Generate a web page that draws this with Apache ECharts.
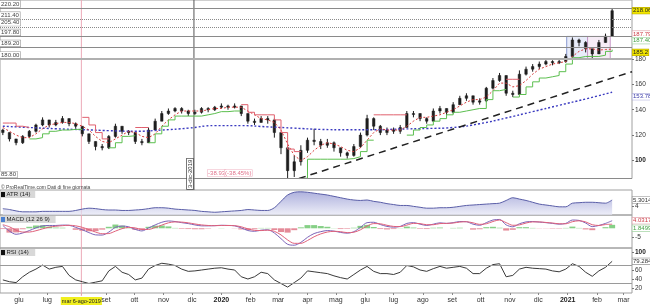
<!DOCTYPE html>
<html><head><meta charset="utf-8">
<script src="https://cdn.jsdelivr.net/npm/echarts@6/dist/echarts.min.js"></script>
<style>html,body{margin:0;padding:0;background:#fff;overflow:hidden}#c{width:650px;height:307px}</style>
</head><body><div id="c"></div>
<script>
// ---------- DATA (weekly samples) ----------
const weeks = ['2019-05-15','2019-05-22','2019-05-29','2019-06-05','2019-06-12','2019-06-19','2019-06-26','2019-07-03','2019-07-10','2019-07-17','2019-07-24','2019-07-31','2019-08-07','2019-08-14','2019-08-21','2019-08-28','2019-09-04','2019-09-11','2019-09-18','2019-09-25','2019-10-02','2019-10-09','2019-10-16','2019-10-23','2019-10-30','2019-11-06','2019-11-13','2019-11-20','2019-11-27','2019-12-04','2019-12-11','2019-12-18','2019-12-25',
'2020-01-01','2020-01-08','2020-01-15','2020-01-22','2020-01-29','2020-02-05','2020-02-12','2020-02-19','2020-02-26','2020-03-04','2020-03-11','2020-03-18','2020-03-25','2020-04-01','2020-04-08','2020-04-15','2020-04-22','2020-04-29','2020-05-06','2020-05-13','2020-05-20','2020-05-27','2020-06-03','2020-06-10','2020-06-17','2020-06-24','2020-07-01','2020-07-08','2020-07-15','2020-07-22','2020-07-29','2020-08-05','2020-08-12','2020-08-19','2020-08-26','2020-09-02','2020-09-09','2020-09-16','2020-09-23','2020-09-30','2020-10-07','2020-10-14','2020-10-21','2020-10-28','2020-11-04','2020-11-11','2020-11-18','2020-11-25','2020-12-02','2020-12-09','2020-12-16','2020-12-23','2020-12-30',
'2021-01-06','2021-01-13','2021-01-20','2021-01-27','2021-02-03','2021-02-10','2021-02-17'];

const priceOpen = [124,122,117,114,119,123,128,132,128,130,133,129,127,121,115,111,110,119,127,123,122,115,114,124,131,137,139,141,139,137,138,141,140,142,143,142,143,137,131,130,133,132,122,110,92,99,108,116,115,112,114,110,106,104,111,120,133,127,122,124,123,126,137,137,133,131,139,141,138,144,149,151,146,147,157,163,167,153,152,168,172,174,176,178,177,178,182,195,193,188,184,193,198];
const priceClose = [122,117,114,119,123,128,132,128,130,133,129,127,121,115,111,110,119,127,123,122,115,114,124,131,137,139,141,139,137,138,141,140,142,143,142,143,137,131,130,133,132,122,110,92,99,108,116,115,112,114,110,106,104,111,120,133,127,122,124,123,126,137,137,133,131,139,141,138,144,149,151,146,147,157,163,167,153,152,168,172,174,176,178,177,178,182,195,193,188,184,193,198,218.06];
const priceHigh = [125,122,117,120,124,129,134,132,132,135,133,130,127,121,115,113,120,129,127,124,122,117,126,133,139,141,142,142,140,140,142,142,143,145,144,145,143,137,133,135,135,133,122,111,104,112,118,125,117,117,115,110,107,113,122,136,134,128,126,126,128,139,139,137,134,141,143,141,146,151,153,151,149,158,165,169,167,155,171,174,176,178,180,179,180,184,197,196,194,188,195,200,220.2];
const priceLow = [120,115,112,113,118,122,127,126,127,129,127,125,119,113,108,108,109,118,121,120,113,112,114,124,131,136,138,137,135,136,137,138,139,141,140,141,135,129,128,130,129,118,105,85.8,87,96,106,112,109,110,107,103,101.5,103,110,119,124,120,120,121,121,126,134,131,129,131,137,136,137,144,147,144,144,146,156,162,151,150,152,167,170,172,175,175,176,177,181,190,185.2,180.5,184,193,198];

const stopGreen = [null,null,null,null,117,118,121,123,124,124,124.5,124.5,null,null,null,null,110,114,119,119.5,null,null,114,121,127,132,135,135,135,135,136,137,138.5,138.5,139,139,null,null,null,null,null,null,null,null,null,86,101,101,101,101,101,101,101.5,103,107,116,null,null,null,null,null,120,124,126,128,131,133,136,138,139,140,141,141,148,155,156,null,150,152,158,162,165,166,167,170,176,181,182,182,182,183,186,187.4];
const stopRed = [129.5,129.5,127,126,null,null,null,null,null,null,null,null,134,128,122,117,null,null,null,null,126,126,null,null,null,null,null,null,null,null,null,null,null,null,null,null,144,138,136,136,136,132,122,109,107,null,null,null,null,null,null,null,null,null,null,null,136,136,136,136,136,null,null,null,null,null,null,null,null,null,null,null,null,null,null,null,164,164,null,null,null,null,null,null,null,null,null,null,null,null,null,null,null];
const maRed = [126,123,120,118,118,121,125,128,129,130,130,129,127,124,119,115,114,117,120,123,122,119,118,121,127,132,136,139,139,139,139,140,141,141,142,142,142,139,136,133,132,130,124,113,104,100,103,108,112,114,113,111,108,107,110,116,122,125,124,124,124,127,131,134,134,135,136,138,140,143,146,148,148,150,155,161,161,158,159,163,168,172,174,176,177,178,182,186,188,188,187,187.5,187.79];

const ma200Dates = ['2019-05-15','2019-06-12','2019-07-10','2019-08-07','2019-09-04','2019-10-02','2019-10-30','2019-11-27','2019-12-25','2020-01-22','2020-02-19','2020-03-18','2020-04-15','2020-05-13','2020-06-10','2020-07-08','2020-08-05','2020-09-02','2020-09-30','2020-10-28','2020-11-25','2020-12-23','2021-01-20','2021-02-17'];
const ma200Values = [127,126,125,124.3,123.5,123,124,125.5,127.5,127.5,126.5,125.5,124.5,124.2,124.2,124.8,125.2,126,129,133.5,138.5,143.5,148.5,153.78];

const trendDates = ['2020-03-23','2021-03-10'];
const trendValues = [85.8, 170];

const levelValues = [220.2, 211.4, 205.4, 197.8, 189.2, 180.0, 85.8];
const boxDates = [['2020-12-31','2021-01-22'],['2021-01-22','2021-02-15']];
const boxRange = [180, 197.8];

const atr = [3.4,3.2,2.9,2.7,2.7,2.7,2.8,2.8,2.8,2.8,2.8,3.0,3.3,3.5,3.4,3.2,3.1,3.1,3.0,3.0,3.1,3.2,3.4,3.6,3.6,3.5,3.3,3.2,3.1,3.0,2.8,2.7,2.6,2.7,2.8,2.9,3.0,3.2,3.1,3.0,3.0,3.6,5.0,6.4,7.0,7.1,7.0,6.8,6.6,6.4,6.1,5.8,5.5,5.3,5.2,5.3,5.0,4.8,4.5,4.3,4.1,4.1,3.9,3.7,3.5,3.5,3.6,3.6,3.7,3.9,4.1,4.2,4.3,4.4,4.5,4.6,5.2,5.8,5.5,5.2,4.8,4.4,4.2,4.0,3.8,3.8,4.6,4.7,4.8,4.8,4.7,4.6,5.3014];
const macdLine = [1.5,-1.5,-3.2,-2.5,-1.2,0.2,1.3,1.5,1.5,1.7,1.6,0.5,-0.8,-2.3,-3.5,-3.6,-2.0,0.5,1.2,0.8,-0.6,-1.4,0.2,1.8,3.2,3.9,3.6,3.0,2.5,1.8,1.3,1.3,1.4,1.6,1.5,1.3,0.2,-1.2,-1.6,-1.0,-0.8,-2.5,-5.5,-8.5,-9.0,-7.5,-4.8,-2.8,-1.8,-1.2,-1.5,-2.2,-2.6,-1.8,0.5,3.0,3.2,2.0,1.0,0.6,1.0,2.6,3.0,2.2,1.5,2.2,2.9,2.6,3.0,3.6,3.5,2.2,1.6,3.0,4.4,4.7,1.8,0.8,2.4,3.4,3.6,3.3,3.0,2.6,2.2,2.6,4.4,4.2,2.8,0.9,1.5,2.6,4.0317];
const macdSignal = [1.9,0.8,-1.0,-2.0,-2.0,-1.3,-0.3,0.6,1.1,1.4,1.6,1.3,0.5,-0.7,-2.0,-2.9,-2.8,-1.5,-0.2,0.5,0.2,-0.6,-0.6,0.4,1.7,2.9,3.4,3.3,2.9,2.3,1.8,1.5,1.4,1.5,1.5,1.4,0.8,-0.3,-1.1,-1.2,-1.0,-1.6,-3.5,-6.2,-8.0,-8.0,-6.5,-4.5,-3.0,-2.0,-1.6,-1.8,-2.3,-2.1,-0.8,1.2,2.5,2.4,1.6,1.0,0.9,1.7,2.6,2.5,1.9,1.9,2.5,2.6,2.8,3.3,3.5,2.9,2.1,2.4,3.6,4.4,3.0,1.6,1.8,2.8,3.4,3.4,3.1,2.8,2.4,2.4,3.5,4.0,3.4,1.9,1.5,2.0,2.18];
const macdHist = [-0.4,-2.3,-2.2,-0.5,0.8,1.5,1.6,0.9,0.4,0.3,0.0,-0.8,-1.3,-1.6,-1.5,-0.7,0.8,2.0,1.4,0.3,-0.8,-0.8,0.8,1.4,1.5,1.0,0.2,-0.3,-0.4,-0.5,-0.5,-0.2,0.0,0.1,0.0,-0.1,-0.6,-0.9,-0.5,0.2,0.2,-0.9,-2.0,-2.3,-1.0,0.5,1.7,1.7,1.2,0.8,0.1,-0.4,-0.3,0.3,1.3,1.8,0.7,-0.4,-0.6,-0.4,0.1,0.9,0.4,-0.3,-0.4,0.3,0.4,0.0,0.2,0.3,0.0,-0.7,-0.5,0.6,0.8,0.3,-1.2,-0.8,0.6,0.6,0.2,-0.1,-0.1,-0.2,-0.2,0.2,0.9,0.2,-0.6,-1.0,0.0,0.6,1.8499];
const rsi = [38,34,32,45,55,62,71,62,66,68,48,38,34,30,33,36,58,68,55,50,38,42,62,70,75,73,70,62,57,58,60,62,64,65,62,60,45,40,45,55,52,38,30,22,32,42,58,56,54,52,47,43,40,50,60,68,57,52,52,50,55,70,67,60,57,63,68,64,66,68,64,52,52,64,72,74,45,48,62,66,64,63,62,58,56,62,74,68,55,46,58,66,79.284];
const rsiLevels = [70, 30];

const monthTickDates = ['2019-06-01','2019-07-01','2019-08-06','2019-09-01','2019-10-01','2019-11-01','2019-12-01','2020-01-01','2020-02-01','2020-03-01','2020-04-01','2020-05-01','2020-06-01','2020-07-01','2020-08-01','2020-09-01','2020-10-01','2020-11-01','2020-12-01','2021-01-01','2021-02-01','2021-03-01'];
const monthTickLabels = ['giu','lug','mar 6-ago-2019','set','ott','nov','dic','2020','feb','mar','apr','mag','giu','lug','ago','set','ott','nov','dic','2021','feb','mar'];
const priceTicks = [100,120,140,160,180];
const atrTicks = [4];
const macdTicks = [-5];
const rsiTicks = [20,40,60,100];

// ---------- BUILD ----------
const DAY0 = Date.UTC(2020,0,1);
function dn(s){const p=s.split('-').map(Number);return (Date.UTC(p[0],p[1]-1,p[2])-DAY0)/86400000;}
const FONT = "'Liberation Sans', Arial, sans-serif";
const XMIN = -234, XMAX = 434;
const wx = weeks.map(dn);
const pair = arr => wx.map((x,i)=>[x, arr[i]]);
const tickMap = {}; monthTickDates.forEach((d,i)=>{tickMap[dn(d)] = monthTickLabels[i];});

const grids = [
  {left:0, right:18, top:0, height:178.5},
  {left:0, right:18, top:190, height:25},
  {left:0, right:18, top:215, height:33},
  {left:0, right:18, top:248, height:45}
].map(g=>Object.assign(g,{show:true, borderColor:'#a0a0a0', borderWidth:1, backgroundColor:'transparent'}));

function xAx(i){
  const base = {type:'value', gridIndex:i, min:XMIN, max:XMAX, splitLine:{show:false}, axisLine:{show:false, onZero:false}};
  if(i<3){ base.axisLabel={show:false}; base.axisTick={show:false}; return base; }
  base.axisTick = {show:true, customValues: monthTickDates.map(dn), length:2, lineStyle:{color:'#888'}};
  base.axisLabel = {show:true, customValues: monthTickDates.map(dn), fontSize:7, color:'#333', fontFamily:FONT, margin:4,
    formatter: v => { const t = tickMap[v] || ''; if(t.indexOf('-')>0) return '{hl|'+t+'}'; if(/^\d{4}$/.test(t)) return '{b|'+t+'}'; return t; },
    rich:{hl:{backgroundColor:'#f0ef1e', color:'#222', fontSize:5.5, padding:[1,1], fontFamily:FONT}, b:{fontWeight:'bold', fontSize:7, color:'#222', fontFamily:FONT}}};
  return base;
}
function yAx(i, min, max, ticks, fmt){
  return {type:'value', gridIndex:i, position:'right', min:min, max:max, scale:true,
    splitLine:{show:false}, axisLine:{show:false, onZero:false},
    axisTick:{show:true, customValues:ticks, length:2, lineStyle:{color:'#777'}},
    axisLabel:{show:true, customValues:ticks, fontSize:6.5, color:'#333', margin:3, fontFamily:FONT, formatter: fmt || (v=>String(v)),
      rich:{b:{fontWeight:'bold', fontSize:6.5, color:'#222', fontFamily:FONT}}}};
}
const boldHundred = v => v===100 ? '{b|100}' : String(v);

function renderCandle(params, api){
  const x=api.value(0), o=api.value(1), c=api.value(2), l=api.value(3), h=api.value(4);
  const pH=api.coord([x,h]), pL=api.coord([x,l]), pO=api.coord([x,o]), pC=api.coord([x,c]);
  const top=Math.min(pO[1],pC[1]), bh=Math.max(1,Math.abs(pO[1]-pC[1]));
  return {type:'group', children:[
    {type:'line', shape:{x1:pH[0],y1:pH[1],x2:pL[0],y2:pL[1]}, style:{stroke:'#1e1e1e', lineWidth:1}},
    {type:'rect', shape:{x:pO[0]-1.25,y:top,width:2.5,height:bh}, style:{fill:'#1e1e1e', stroke:'#1e1e1e', lineWidth:0.5}}
  ]};
}

const levelTypes = ['solid','dotted','dotted','solid','solid','solid','solid'];
const levelWidths = [1,1,1,1,1,2,1];
const levelLines = levelValues.map((v,i)=>({yAxis:v, lineStyle:{type:levelTypes[i], color: i===5?'#b0b0b0':'#8a8a8a', width:levelWidths[i]},
  label:{show:true, position:'insideStartTop', distance:[0,1], formatter:v.toFixed(2), fontSize:6, color:'#444', fontFamily:FONT,
    backgroundColor:'#fff', borderColor:'#999', borderWidth:0.6, padding:[0,1]}}));

const lineBase = {type:'line', showSymbol:false, symbol:'none', silent:true, connectNulls:false, z:3};

const option = {
  animation:false,
  backgroundColor:'#fff',
  grid: grids,
  xAxis: [xAx(0), xAx(1), xAx(2), xAx(3)],
  yAxis: [
    yAx(0, 85.8, 226.5, priceTicks, boldHundred),
    yAx(1, 2, 7.5, atrTicks),
    yAx(2, -10.48, 7.07, macdTicks),
    yAx(3, 8.9, 108.9, rsiTicks, boldHundred)
  ],
  series: [
    Object.assign({}, lineBase, {name:'ma200', xAxisIndex:0, yAxisIndex:0, data: ma200Dates.map((d,i)=>[dn(d), ma200Values[i]]), smooth:true,
      lineStyle:{color:'#3a3ac0', width:1.4, type:[2,2]}, z:2,
      markLine:{silent:true, symbol:'none', animation:false, data: levelLines},
      markArea:{silent:true, data: boxDates.map((b,i)=>[
        {xAxis:dn(b[0]), yAxis:boxRange[0], itemStyle:{color: i===0?'rgba(150,170,230,0.22)':'rgba(215,170,215,0.22)', borderColor: i===0?'#8a9ad0':'#c89ac8', borderWidth:1}},
        {xAxis:dn(b[1]), yAxis:boxRange[1]}])}}),
    {type:'custom', name:'price', xAxisIndex:0, yAxisIndex:0, renderItem:renderCandle, clip:true, z:2,
      encode:{x:0, y:[1,2,3,4]}, data: wx.map((x,i)=>[x, priceOpen[i], priceClose[i], priceLow[i], priceHigh[i]])},
    Object.assign({}, lineBase, {name:'maRed', xAxisIndex:0, yAxisIndex:0, data: pair(maRed), lineStyle:{color:'#d83a3a', width:1, type:[2,2]}}),
    Object.assign({}, lineBase, {name:'stopGreen', xAxisIndex:0, yAxisIndex:0, step:'end', data: pair(stopGreen), lineStyle:{color:'#5cbf4f', width:1}}),
    Object.assign({}, lineBase, {name:'stopRed', xAxisIndex:0, yAxisIndex:0, step:'end', data: pair(stopRed), lineStyle:{color:'#e0606e', width:1}}),
    Object.assign({}, lineBase, {name:'trend', xAxisIndex:0, yAxisIndex:0, data: trendDates.map((d,i)=>[dn(d), trendValues[i]]), lineStyle:{color:'#222', width:1.5, type:[7,5]}}),
    Object.assign({}, lineBase, {name:'atr', xAxisIndex:1, yAxisIndex:1, data: pair(atr), smooth:0.3,
      lineStyle:{color:'#5a5ea8', width:1}, areaStyle:{origin:'start', color:new echarts.graphic.LinearGradient(0,0,0,1,[{offset:0,color:'#8c90cf'},{offset:1,color:'#e6e7f5'}])}}),
    {type:'bar', name:'hist', xAxisIndex:2, yAxisIndex:2, barWidth:6, silent:true, data: pair(macdHist),
      itemStyle:{color: p => p.value[1]>=0 ? '#86d086' : '#e48a98'}},
    Object.assign({}, lineBase, {name:'macd', xAxisIndex:2, yAxisIndex:2, data: pair(macdLine), smooth:0.3, lineStyle:{color:'#7b63b8', width:1}}),
    Object.assign({}, lineBase, {name:'signal', xAxisIndex:2, yAxisIndex:2, data: pair(macdSignal), smooth:0.3, lineStyle:{color:'#e0607a', width:1}}),
    Object.assign({}, lineBase, {name:'rsi', xAxisIndex:3, yAxisIndex:3, data: pair(rsi), lineStyle:{color:'#3a3a3a', width:1},
      markLine:{silent:true, symbol:'none', label:{show:false}, lineStyle:{color:'#9a9a9a', type:'solid', width:1}, data: rsiLevels.map(v=>({yAxis:v}))}})
  ]
};

const chart = echarts.init(document.getElementById('c'), null, {renderer:'canvas'});
chart.setOption(option);

// ---------- overlays positioned through the chart's own scales ----------
const X = d => chart.convertToPixel({xAxisIndex:0}, dn(d));
const Y = (ax, v) => chart.convertToPixel({yAxisIndex:ax}, v);
function boxText(text, x, y, st){
  return {type:'text', x:x, y:y, z:50, silent:true, style:Object.assign({text:text, fontSize:6, fontFamily:FONT, fill:'#333', align:'left', verticalAlign:'middle',
    backgroundColor:'#fff', borderColor:'#999', borderWidth:0.6, padding:[0,0.5]}, st||{})};
}
function panelTitle(text, y, sq){
  return {type:'group', x:0, y:y, z:50, silent:true, children:[
    {type:'rect', shape:{x:0,y:0,width:text.length*3.4+8,height:7}, style:{fill:'#d8d8d8'}},
    {type:'rect', shape:{x:1,y:1,width:4,height:5}, style:{fill:sq}},
    {type:'text', x:6.5, y:3.7, style:{text:text, fontSize:6, fontFamily:FONT, fill:'#222', verticalAlign:'middle'}}
  ]};
}
const xAug = X('2019-08-06'), xDec = X('2019-12-03'), xMeas = X('2020-01-16');
const RX = 632.5;
chart.setOption({graphic:[
  {type:'line', z:1, silent:true, shape:{x1:xAug,y1:0,x2:xAug,y2:296}, style:{stroke:'#ecaab8', lineWidth:1}},
  {type:'line', z:1, silent:true, shape:{x1:xDec,y1:0,x2:xDec,y2:190}, style:{stroke:'#555', lineWidth:1}},
  {type:'text', x:xDec-4, y:189, rotation:Math.PI/2, z:50, silent:true, style:{text:'3-dic-2019', fontSize:6, fontFamily:FONT, fill:'#333', align:'left', verticalAlign:'middle',
     backgroundColor:'#fff', borderColor:'#444', borderWidth:0.7, padding:[0,1]}},
  boxText('-38.93', xMeas-28, 173, {fill:'#e0708a', borderColor:'#efb0c0'}),
  boxText('(-38.45%)', xMeas-11, 173, {fill:'#e0708a', borderColor:'#efb0c0'}),
  {type:'text', x:1, y:187.5, z:50, silent:true, style:{text:'© ProRealTime.com Dati di fine giornata', fontSize:5, fontFamily:FONT, fill:'#444', verticalAlign:'middle'}},
  panelTitle('ATR (14)', 191, '#111'),
  panelTitle('MACD (12 26 9)', 216, '#4a7fd0'),
  panelTitle('RSI (14)', 249, '#111'),
  boxText('218.06', RX, Y(0,218.06), {backgroundColor:'#f2e600', borderColor:'#b8aa00', fill:'#222'}),
  boxText('187.79', RX, Y(0,187.79)-15, {fill:'#cc3a44', borderColor:'#e0a0a8'}),
  boxText('187.40', RX, Y(0,187.40)-9, {fill:'#3f9f3f', borderColor:'#9cd09c'}),
  boxText('185.2', RX, Y(0,185.2), {backgroundColor:'#f2e600', borderColor:'#b8aa00', fill:'#222'}),
  boxText('153.78', RX, Y(0,153.78)+4.5, {fill:'#3a3aa8', borderColor:'#a0a0d8'}),
  boxText('5.3014', RX, Y(1,5.3014), {fill:'#333', borderColor:'#888'}),
  boxText('4.0317', RX, Y(2,4.0317), {fill:'#cc3a44', borderColor:'#e0a0a8'}),
  boxText('1.8499', RX, Y(2,1.8499)+3.5, {fill:'#3f9f3f', borderColor:'#9cd09c'}),
  boxText('79.284', RX, Y(3,79.284), {fill:'#333', borderColor:'#888'})
]});
</script>
</body></html>
